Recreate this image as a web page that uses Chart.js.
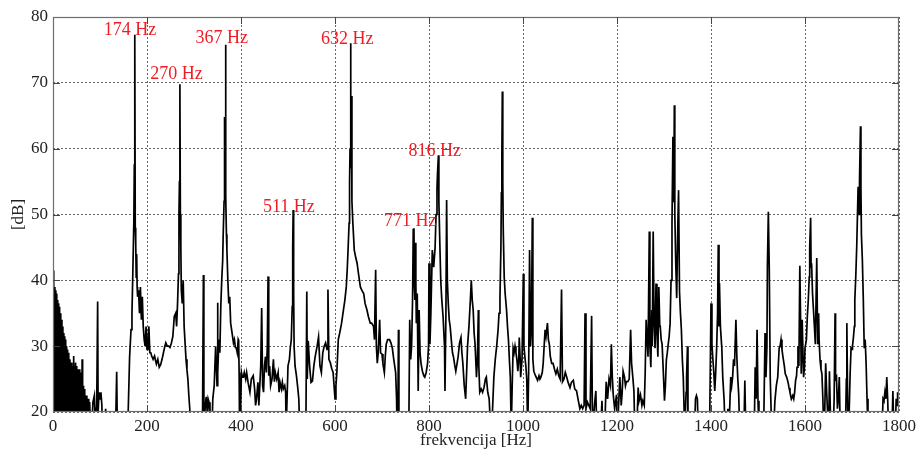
<!DOCTYPE html>
<html>
<head>
<meta charset="utf-8">
<script src="https://cdn.jsdelivr.net/npm/chart.js@4/dist/chart.umd.min.js"></script>
<style>
  html, body { margin: 0; padding: 0; background: #ffffff; }
  canvas { display: block; }
</style>
</head>
<body>
<canvas id="c" width="920" height="452" style="width:920px;height:452px"></canvas>
<script>
// ---------------- data ----------------
// Spectrum (frequency in Hz, level in dB). Values below 20 dB sit under the axis floor.
const freqHz = [
  0,1,2,3,4,5,6,7,8,9,10,11,12,13,14,15,16,17,18,19,
  20,21,22,23,24,25,26,27,28,29,30,31,32,33,34,35,36,37,38,39,
  40,41,42,43,44,45,46,47,48,49,50,51,52,53,54,55,56,57,58,59,
  60,61,62,63,64,65,66,67,68,69,70,71,72,73,74,75,76,77,78,80,
  82,85,88,90,93,95,96,98,100,102,104,105,110,112,113,133,135.5,137,158,
  160,163,166,168,170,172,173,174,175,176,177,178,179,180,182,184,186,188,190,192,
  194,196,198,200,202,204,206,208,210,213,216,220,223,226,229,232,235,238,240,243,
  246,249,252,255,258,261,263,265,267,268,269,270,271,272,273,275,277,279,281,283,
  285,287,289,291,293,
  318,320,321,324,326,328,330,332,334,338,340,343,346,349,350,351,353,355,357,359,
  361,362,364,365,366,367,368,369,370,372,374,376,378,380,382,384,386,388,390,392,
  394,395,396,397,399,401,403,405,407,410,412,415,419,422,426,429,431,433,436,438,
  440,442,444,446,448,450,452,454,456,457.6,459,461,463,466,469,471,473,476,479,481,
  483,486,488,490,493,495,496,498,500,503,505,507,509,510,511,512,513,515,518,521,
  523,525,538,540,541,543,546,549,552,555,558,562,565,568,571,574,577,580,583,585,
  587,590,593,596,598,600,602,604,
  607,610,614,618,621,624,626,628,630,631,632,633,634,635,636,638,641,644,647,650,
  654,657,661,664,668,671,675,678,682,684,686.5,688,690,692,695,697,700,702,705,707,
  709,712,716,719,722,725,727,729,731,732,734,735,736,738,757,759,761,763,765,766.5,
  768,769,770,771,772,773,775,777,779,781,783,786,789,791,794,797,799,800,802,804,
  807,810,813,815,817,818,820,821,823,825,827,830,833,834,836,837.5,839,841,843,845,
  848,850,852,855,857,860,862,865,868,870,872,875,878,880,882,885,888,890,891,892,
  894,896,898,900,901,903,905,906,908,911,914,917,920,922,925,928,930,933,935,938,
  941,944,947,949,951,953,954,955,956,957,958,960,962,965,967,969,971,973,975,977,
  979,981,983,985,987,989,991,992,994,995,998,1000.7,1002,1004,1006,1008,1010,
  1012,1014,1016,1018,1019.8,1021,1023,1025,1028,1031,1034,1036,1038,1041,1043,1045,1047,1049,1052,1054,
  1056,1058,1061,1064,1067,1070,1073,1076,1079,1082,1084,1087,1090,1093,1096,1100,1103,1107,1110,1114,
  1117,1121,1124,1127,1130,1132,1134,1137,1140,1143,1146,1148,1152,1155,1157,1165,1168,1170,1175,1177,
  1180,1183,1186,1188,1190,1192,1195,1199,1201,1204,1206,1209,1211,1213,1216,1218,1220,1223,1226,1229,
  1231,1234,1236,1238,1242,1245,1247,1250,1253,1255,1258,1260,1262,1264,1266,1268.7,1270,1272,1274,1275,
  1277,1279,1281,1283,1285,1287,1289,1291,1292,1294,1296,1299,1301,1303,1305,1307,1309,1311,1313,1315,
  1317,1319,1320,1321,1322,1323,1325,1327,1329,1331,1333,1335,1337,1339,1341,1344,1347,1348,1350,1351,
  1365,1367,1369,1371,1373,1397,
  1399,1400,1402,1404,1406,1408,1410,1412,1414,1415.5,1417,1418,1420,1423,1425,1428,1430,1434,1436,1438,
  1440,1442,1444,1446,1448,1450,1453,1455,1457,1459,1461,1470,1472,1474,1492,1494,1496,1498,1500,1502,
  1512,1515,1517,1519,1520,1522,1524,1526,1528,1529,1533,1536,1539,1542,1545,1547,1549,1551,1553,1556,
  1558,1561,1564,1566,1568,1571,1574,1576,1578,1580,1582,1583,1585,1587,1589,1591,1592,1594,1596,1597,
  1599,1600,1603,1605,1607,1609,1610,1612,1613,1614,1616,1618,1620,1622,1625,1627,1629,1630,1632,1634,
  1636,1638,1640,1642,1644,1646,1648,1649,1651,1652,1654,1655,1660,1662,1664,1665,1667,1669,1671,1673,
  1675,1686,1688,1689,1691,1692,1694,1696,1698,1700,1701,1703,1705,1706,1708,1710,1711,1713,1715,1716,
  1718,1719,1720,1722,1724,1726,1728,1730,1732,1734,1764,1766,1768,1770,1772,1774,1776,1778,1785,1787,
  1789,1792,1794,1796,1797,1799,1800
];
const levelDb = [
  41.5,17,40,17,39,21,38.5,17,38,17,37,17,36.5,22,36,17,35,17,34,17,
  33,17,32,17,31.5,17,31,17,30,20,29.5,17,29,17,28.5,17,28,17,27.5,17,
  27.5,17,27,17,28.5,17,27,17,27.5,17,27,17,26.5,17,26,17,26.5,17,25.5,17,
  26,17,28,17,24,17,23.5,17,23,17,22.5,17,22.5,17,22,17,22,17,21.5,17,
  17,21.5,22.5,18,21,36.8,20,23,22,23,21,17,17,20.5,17,17,26.1,17,17,
  20,28.4,32.5,35,41.6,49,57.5,77.3,48,45.7,40.5,44,39,37.5,38.5,35,39,34,37.5,33,
  31,30,33,29.5,30.5,33,29,29,28.5,28,28.5,27.3,28,26.8,27.2,28,29,30,30.5,30,
  30,29.8,30.5,31.5,34.5,35,33,36.5,41,50,55,69.8,50,45,38.5,36.5,40,33,30.5,28,
  26.4,25,22.5,20.5,17,
  17,40.8,17,21,22.3,20,22,21.5,17,17,22,24,30,24,36.6,26,31,29,36,40,
  43,46.6,52,64.8,59,75.8,52.7,47,44.6,40,36.5,37.5,33.5,32.5,31.5,30.5,31,29.8,29.7,29,
  31,30.8,26,17,20,26,25.3,25.3,26,25,26,24.5,23,25,25.5,23.5,21,22,24.5,21,
  24,27,35.8,24,23,27,28.4,26,30,40.6,25.5,27,24,25,28,24.6,26,25,26,23,
  24.5,23.5,24.5,23.5,24,23,17,22,27,28,29.8,31,36,45,50.7,38,30,27,25.5,23.5,
  22,17,17,38.3,25,30.8,27,24.5,24.7,27,28.5,30,31.4,27,26,29,30,30.5,29.5,38.6,
  28,27.5,26.6,26,24,22,24,26.1,
  31,32,33.5,35.5,37,39,41.6,45,48.7,55,60,76,57,68,52,48.7,44.6,43.5,42.6,41,
  39,38.5,38,36.5,35.5,34.5,33.5,33.5,33,31,41.6,30,27.4,29,34,29,28.8,27.3,26,28.5,
  30.3,31,31,30.5,29.7,28,27,26,22,17,22,32.5,19,17,17,34,28,30,37,47.7,
  47.9,39,37,45.7,40,33.5,38,23.2,35.5,29,27.4,26.2,25.5,25.3,26,27.4,30,42.6,30.3,35,
  44.6,42,45,50,54,56,59,52,45.7,40,37.3,34.4,30,23.2,35,52.2,40,36.5,34,33,
  30.5,29,28.4,27,26.2,27.5,28.4,30.5,31.3,29,27.4,24,22,26,30,33,37,40,40,37,
  35.5,32,30.3,27,25.3,28,35.5,27,23,23.5,23,23.7,25,25.3,23,22,19,17,20,25.3,
  28,30,32.5,35,37.3,45,53.3,58.8,68.7,55,47.7,40.5,38,35.5,33,31,28,25.3,17,24,
  29.7,29,30,29,28,26.2,28,31.3,28,25.3,28,41,30,28.4,27,25,17,
  26,44.6,30,33,49.5,28,26.2,25.8,25.3,24.8,25.5,25,25.3,26,27.4,30,32.5,31.5,33.5,31,
  30.3,28.5,27.4,27.4,26.5,25.8,26.5,25.5,25,38.6,24.6,25,26,25.3,24.5,23.7,24.5,24.8,23.5,23.2,
  22,20.5,21,20.5,21,35,20.5,21.5,21,20.5,34.6,17,21,23.2,17,17,21.7,17,20,24.6,
  22,25,24,30.3,25.3,22.6,20.5,22.6,17,22,25.3,21,23,26.2,25.3,24,24.6,24.6,25,32.5,
  27.4,25,23.2,17,17,23.7,21.7,22.6,21,21.7,21,26,34,31,28.4,47.4,30,26.8,35.5,30,
  47.4,33,29.7,39.5,32,28.4,39,33,33,31,30.3,25.3,21.7,24,27.9,29,30.3,31.5,33.5,40,
  48.7,61.8,52,55,66.6,50,42.6,37.3,46.8,53.7,38.3,35,32.5,28,25.3,17,23,25.3,30,17,
  17,22,22.5,22,17,17,
  30,36.5,30.3,28,26,23.2,26,29.7,35,45.4,33,39.6,33,29.7,25.3,21.7,17,17,20.5,17,
  21,25.3,24,25.3,28,27,34,28.4,25,22.6,17,17,24.8,17,17,26.8,22,32.5,21.7,17,
  17,32,25.3,30,42,50.4,41.6,25.3,20,17,17,21.7,24,25.3,29.7,30,31,29.5,28.4,27,
  25.8,25.3,24.5,23.7,23,22,22.5,22,23,24.8,25.5,26.8,30,27,42.2,32,25.8,34,28,25.3,
  27,29.7,31,34.6,37,40.5,45,49.5,42,42.6,38,35.5,33,30.3,43.4,30.3,35,31,27.9,26.5,
  25.8,22,17,20,27.4,23.2,20,17,20,26.2,20,17,17,22,35,25,25.3,20.5,22,25.3,
  17,17,25,33.5,20,17,20,25.8,29.7,29.5,30,31.3,33,37,40.5,45,48,54.2,50,55,
  63.4,54.2,47,43.2,37.3,29.7,31,27.4,22,17,17,22,21.7,23,22,25.3,21.7,17,17,23.2,
  17,17,22,21,23,22,24
];

// Axis ticks
const xTicks = [0, 200, 400, 600, 800, 1000, 1200, 1400, 1600, 1800];
const yTicks = [20, 30, 40, 50, 60, 70, 80];

// Peak annotations (text, frequency where text is centred, level of text baseline)
const peakText = ['174 Hz', '270 Hz', '367 Hz', '511 Hz', '632 Hz', '771 Hz', '816 Hz'];
const peakTextHz = [164, 263, 359, 502, 626, 760, 812];
const peakTextDb = [77.3, 70.6, 76.0, 50.4, 75.9, 48.3, 58.9];

const xTitle = 'frekvencija [Hz]';
const yTitle = '[dB]';

// ---------------- chart ----------------
const SERIF = '"Liberation Serif", "Times New Roman", Times, serif';
const points = freqHz.map((f, i) => ({ x: f, y: levelDb[i] }));

const whiteBg = {
  id: 'whiteBg',
  beforeDraw(chart) {
    const c = chart.ctx;
    c.save();
    c.fillStyle = '#ffffff';
    c.fillRect(0, 0, chart.width, chart.height);
    c.restore();
  }
};

const frame = {
  id: 'frame',
  afterDatasetsDraw(chart) {
    const { ctx: c, chartArea: a, scales } = chart;
    c.save();
    c.strokeStyle = '#6e6e6e';
    c.lineWidth = 1.2;
    c.strokeRect(a.left + 0.5, a.top + 0.5, a.right - a.left - 1, a.bottom - a.top - 1);
    c.strokeStyle = '#444';
    c.lineWidth = 1;
    const tl = 7;
    c.beginPath();
    xTicks.slice(1, -1).forEach(v => {
      const px = Math.round(scales.x.getPixelForValue(v)) + 0.5;
      c.moveTo(px, a.top); c.lineTo(px, a.top + tl);
      c.moveTo(px, a.bottom); c.lineTo(px, a.bottom - tl);
    });
    yTicks.slice(1, -1).forEach(v => {
      const py = Math.round(scales.y.getPixelForValue(v)) + 0.5;
      c.moveTo(a.left, py); c.lineTo(a.left + tl, py);
      c.moveTo(a.right, py); c.lineTo(a.right - tl, py);
    });
    c.stroke();
    c.restore();
  }
};

const peakLabels = {
  id: 'peakLabels',
  afterDraw(chart) {
    const { ctx: c, scales } = chart;
    c.save();
    c.fillStyle = '#ee1c24';
    c.font = '18px ' + SERIF;
    c.textAlign = 'center';
    c.textBaseline = 'alphabetic';
    peakText.forEach((t, i) => {
      c.fillText(t, scales.x.getPixelForValue(peakTextHz[i]), scales.y.getPixelForValue(peakTextDb[i]));
    });
    c.restore();
  }
};

new Chart(document.getElementById('c'), {
  type: 'line',
  data: {
    datasets: [{
      data: points,
      borderColor: '#000000',
      borderWidth: 1.7,
      pointRadius: 0,
      tension: 0,
      fill: false
    }]
  },
  options: {
    responsive: false,
    animation: false,
    devicePixelRatio: 1,
    layout: { padding: { left: 0, top: 17, right: 21, bottom: 0 } },
    plugins: { legend: { display: false }, tooltip: { enabled: false } },
    scales: {
      x: {
        type: 'linear',
        min: 0, max: 1800,
        afterBuildTicks(scale) { scale.ticks = xTicks.map(v => ({ value: v })); },
        afterFit(scale) { scale.height = 40; },
        ticks: { color: '#222', font: { family: SERIF, size: 17 }, padding: 4, maxRotation: 0,
                 callback: v => String(v) },
        grid: { color: '#666', lineWidth: 1, drawTicks: false },
        border: { display: false, dash: [2, 2] },
        title: { display: true, text: xTitle, color: '#222', font: { family: SERIF, size: 17 }, padding: { top: 0, bottom: 1 } }
      },
      y: {
        type: 'linear',
        min: 20, max: 80,
        afterBuildTicks(scale) { scale.ticks = yTicks.map(v => ({ value: v })); },
        afterFit(scale) { scale.width = 53; },
        ticks: { color: '#222', font: { family: SERIF, size: 17 }, padding: 5, callback: v => String(v) },
        grid: { color: '#666', lineWidth: 1, drawTicks: false },
        border: { display: false, dash: [2, 2] },
        title: { display: true, text: yTitle, color: '#222', font: { family: SERIF, size: 17 }, padding: { top: 8, bottom: 0 } }
      }
    }
  },
  plugins: [whiteBg, frame, peakLabels]
});
</script>
</body>
</html>
